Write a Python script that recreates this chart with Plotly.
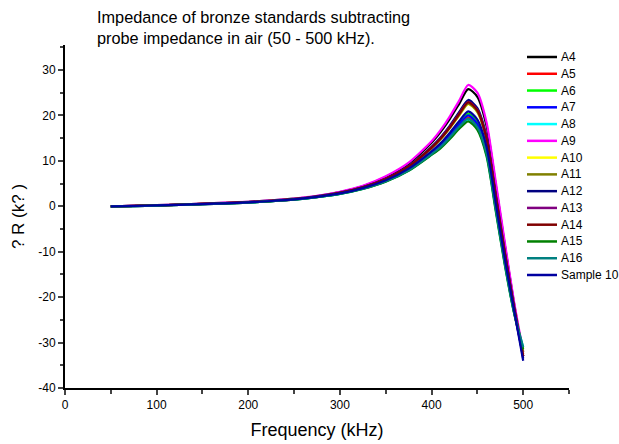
import plotly.graph_objects as go

freq = [50, 75, 100, 125, 150, 175, 200, 225, 250, 275, 300, 325, 350, 375,
        400, 410, 420, 430, 440, 450, 460, 470, 480, 490, 500]

names = ["A4", "A5", "A6", "A7", "A8", "A9", "A10", "A11", "A12", "A13",
         "A14", "A15", "A16", "Sample 10"]

A4 = [0, 0.08, 0.24, 0.39, 0.58, 0.78, 0.98, 1.28, 1.67, 2.27, 3.15, 4.42, 6.47, 9.4,
      14.0, 16.4, 19.25, 22.5, 25.8, 24.1, 17.7, 4.8, -8.55, -21.3, -33.0]
A5 = [0, 0.05, 0.16, 0.31, 0.47, 0.62, 0.82, 1.12, 1.48, 2.03, 2.76, 3.88, 5.53, 8.0,
      11.6, 13.2, 15.35, 17.7, 19.6, 17.7, 11.8, -0.3, -12.45, -23.2, -32.5]
A6 = [0, 0.06, 0.17, 0.32, 0.48, 0.64, 0.84, 1.14, 1.5, 2.06, 2.8, 3.95, 5.65, 8.2,
      11.9, 13.6, 15.85, 18.3, 20.4, 18.5, 12.6, 0.4, -11.95, -23.0, -32.0]
A7 = [0, 0.05, 0.17, 0.32, 0.47, 0.63, 0.83, 1.13, 1.49, 2.05, 2.78, 3.91, 5.6, 8.1,
      11.8, 13.45, 15.6, 18.0, 20.0, 18.1, 12.2, 0.05, -12.2, -23.1, -33.0]
A8 = [0, 0.05, 0.15, 0.3, 0.46, 0.61, 0.81, 1.11, 1.46, 2.01, 2.72, 3.83, 5.45, 7.87,
      11.4, 12.95, 15.0, 17.25, 19.0, 17.1, 11.3, -0.74, -12.8, -23.4, -31.0]
A9 = [0, 0.08, 0.25, 0.4, 0.6, 0.8, 1.0, 1.3, 1.7, 2.3, 3.2, 4.5, 6.6, 9.6,
      14.3, 16.8, 19.8, 23.2, 26.7, 25.0, 18.5, 5.5, -8.0, -21.0, -32.0]
A10 = [0, 0.06, 0.2, 0.35, 0.52, 0.7, 0.9, 1.2, 1.57, 2.14, 2.94, 4.13, 5.97, 8.66,
       12.7, 14.7, 17.2, 19.9, 22.5, 20.7, 14.6, 2.1, -10.6, -22.3, -32.5]
A11 = [0, 0.06, 0.2, 0.35, 0.52, 0.7, 0.9, 1.2, 1.57, 2.15, 2.95, 4.14, 5.99, 8.68,
       12.8, 14.8, 17.25, 20.0, 22.6, 20.8, 14.7, 2.2, -10.55, -22.3, -32.0]
A12 = [0, 0.07, 0.21, 0.36, 0.54, 0.72, 0.92, 1.22, 1.6, 2.18, 3.0, 4.21, 6.11, 8.86,
       13.1, 15.2, 17.75, 20.7, 23.4, 21.6, 15.4, 2.8, -10.05, -22.0, -33.5]
A13 = [0, 0.07, 0.2, 0.35, 0.53, 0.71, 0.91, 1.21, 1.59, 2.16, 2.97, 4.18, 6.05, 8.77,
       12.9, 15.0, 17.5, 20.35, 23.0, 21.2, 15.05, 2.5, -10.3, -22.15, -33.0]
A14 = [0, 0.07, 0.2, 0.35, 0.53, 0.7, 0.9, 1.2, 1.58, 2.16, 2.96, 4.17, 6.03, 8.75,
       12.9, 14.9, 17.4, 20.25, 22.9, 21.1, 14.9, 2.4, -10.4, -22.2, -33.0]
A15 = [0, 0.05, 0.15, 0.3, 0.45, 0.6, 0.8, 1.1, 1.45, 2.0, 2.7, 3.8, 5.4, 7.8,
       11.3, 12.8, 14.8, 17.0, 18.7, 16.8, 11.0, -1.0, -13.0, -23.5, -31.5]
A16 = [0, 0.05, 0.16, 0.31, 0.46, 0.62, 0.82, 1.12, 1.47, 2.02, 2.74, 3.85, 5.49, 7.94,
       11.5, 13.1, 15.2, 17.5, 19.3, 17.4, 11.6, -0.5, -12.6, -23.3, -31.0]
S10 = [0, 0.06, 0.18, 0.33, 0.49, 0.66, 0.86, 1.16, 1.52, 2.08, 2.84, 3.99, 5.73, 8.3,
       12.1, 13.9, 16.2, 18.7, 20.9, 19.1, 13.1, 0.8, -11.6, -22.8, -34.0]

series = [A4, A5, A6, A7, A8, A9, A10, A11, A12, A13, A14, A15, A16, S10]
colors = ["#000000", "#FF0000", "#00FF00", "#0000FF", "#00FFFF", "#FF00FF",
          "#FFFF00", "#808000", "#000080", "#800080", "#800000", "#008000",
          "#008080", "#0000A0"]

y_ticks = [-40, -30, -20, -10, 0, 10, 20, 30]
y_labels = ["-40", "-30", "-20", "-10", "0", "10", "20", "30"]
x_ticks = [0, 100, 200, 300, 400, 500]
x_labels = ["0", "100", "200", "300", "400", "500"]

FONT = "Arial, Liberation Sans, sans-serif"
W, H = 619, 444
ML, MR, MT, MB = 65, 50, 45, 56
PW, PH = W - ML - MR, H - MT - MB


def px(xp):
    return (xp - ML) / PW


def py(yp):
    return 1 - (yp - MT) / PH


fig = go.Figure()
for name, vals, col in zip(names, series, colors):
    fig.add_trace(go.Scatter(x=freq, y=vals, mode="lines", name=name,
                             line=dict(color=col, width=2.2, shape="spline", smoothing=0.7)))

annotations = [
    dict(text="Impedance of bronze standards subtracting", xref="paper", yref="paper",
         x=px(95), y=py(17), xanchor="left", yanchor="middle", showarrow=False,
         font=dict(size=16.3, family=FONT)),
    dict(text="probe impedance in air (50 - 500 kHz).", xref="paper", yref="paper",
         x=px(95), y=py(38), xanchor="left", yanchor="middle", showarrow=False,
         font=dict(size=16.3, family=FONT)),
]
shapes = []
# manual legend (layout decoration)
leg_top, leg_step = 57, (275 - 57) / 13
for i, (name, col) in enumerate(zip(names, colors)):
    yy = py(leg_top + i * leg_step)
    shapes.append(dict(type="line", xref="paper", yref="paper", x0=px(527), x1=px(557),
                       y0=yy, y1=yy, line=dict(color=col, width=2.5)))
    annotations.append(dict(text=name, xref="paper", yref="paper", x=px(559), y=yy,
                            xanchor="left", yanchor="middle", showarrow=False,
                            font=dict(size=12, family=FONT)))

fig.update_layout(
    width=W, height=H,
    margin=dict(l=ML, r=MR, t=MT, b=MB, autoexpand=False),
    paper_bgcolor="white", plot_bgcolor="white",
    font=dict(family=FONT, color="black"),
    showlegend=False,
    annotations=annotations,
    shapes=shapes,
)
fig.update_xaxes(range=[0, 550], tickvals=x_ticks, ticktext=x_labels, ticks="outside", ticklen=5,
                 tickwidth=2, showline=True, linewidth=2, linecolor="black",
                 showgrid=False, zeroline=False, tickfont=dict(size=12),
                 minor=dict(dtick=50, tick0=0, ticks="outside", ticklen=4, tickwidth=2, showgrid=False),
                 title=dict(text="Frequency (kHz)", font=dict(size=18), standoff=12))
fig.update_yaxes(range=[-40, 35.5], tickvals=y_ticks, ticktext=y_labels, ticks="outside", ticklen=5,
                 tickwidth=2, showline=True, linewidth=2, linecolor="black",
                 showgrid=False, zeroline=False, tickfont=dict(size=12),
                 minor=dict(dtick=5, tick0=0, ticks="outside", ticklen=3, tickwidth=2, showgrid=False),
                 title=dict(text="? R (k? )", font=dict(size=17), standoff=9))

fig.write_html("out.html")
